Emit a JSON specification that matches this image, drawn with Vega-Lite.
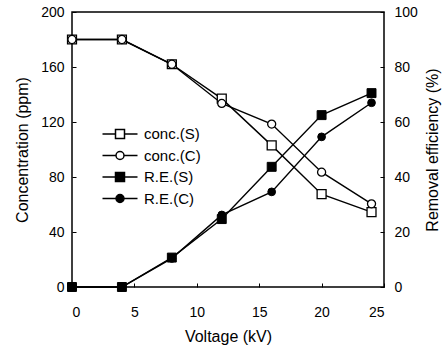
{
  "$schema": "https://vega.github.io/schema/vega-lite/v6.json",
  "width": 312,
  "height": 275,
  "autosize": "none",
  "padding": {"left": 72, "top": 12, "right": 62, "bottom": 60},
  "background": "white",
  "config": {
    "font": "Liberation Sans",
    "view": {"stroke": "black", "strokeWidth": 1.5},
    "axis": {
      "labelFont": "Liberation Sans",
      "titleFont": "Liberation Sans",
      "labelFontSize": 14,
      "titleFontSize": 16,
      "titleFontWeight": "normal",
      "labelColor": "black",
      "titleColor": "black",
      "grid": false,
      "domain": false,
      "tickColor": "black",
      "tickSize": -4,
      "tickWidth": 1
    }
  },
  "data": {
    "values": [
      {"V": 0, "value": 180, "series": "conc.(S)", "group": "conc"},
      {"V": 4, "value": 180, "series": "conc.(S)", "group": "conc"},
      {"V": 8, "value": 162, "series": "conc.(S)", "group": "conc"},
      {"V": 12, "value": 137, "series": "conc.(S)", "group": "conc"},
      {"V": 16, "value": 103, "series": "conc.(S)", "group": "conc"},
      {"V": 20, "value": 67.5, "series": "conc.(S)", "group": "conc"},
      {"V": 24, "value": 54.5, "series": "conc.(S)", "group": "conc"},
      {"V": 0, "value": 180, "series": "conc.(C)", "group": "conc"},
      {"V": 4, "value": 180, "series": "conc.(C)", "group": "conc"},
      {"V": 8, "value": 162, "series": "conc.(C)", "group": "conc"},
      {"V": 12, "value": 133.5, "series": "conc.(C)", "group": "conc"},
      {"V": 16, "value": 118.5, "series": "conc.(C)", "group": "conc"},
      {"V": 20, "value": 83.5, "series": "conc.(C)", "group": "conc"},
      {"V": 24, "value": 60.5, "series": "conc.(C)", "group": "conc"},
      {"V": 0, "value": 0, "series": "R.E.(S)", "group": "re"},
      {"V": 4, "value": 0, "series": "R.E.(S)", "group": "re"},
      {"V": 8, "value": 10.7, "series": "R.E.(S)", "group": "re"},
      {"V": 12, "value": 24.7, "series": "R.E.(S)", "group": "re"},
      {"V": 16, "value": 43.7, "series": "R.E.(S)", "group": "re"},
      {"V": 20, "value": 62.5, "series": "R.E.(S)", "group": "re"},
      {"V": 24, "value": 70.5, "series": "R.E.(S)", "group": "re"},
      {"V": 0, "value": 0, "series": "R.E.(C)", "group": "re"},
      {"V": 4, "value": 0, "series": "R.E.(C)", "group": "re"},
      {"V": 8, "value": 10.4, "series": "R.E.(C)", "group": "re"},
      {"V": 12, "value": 26.2, "series": "R.E.(C)", "group": "re"},
      {"V": 16, "value": 34.6, "series": "R.E.(C)", "group": "re"},
      {"V": 20, "value": 54.6, "series": "R.E.(C)", "group": "re"},
      {"V": 24, "value": 67, "series": "R.E.(C)", "group": "re"}
    ]
  },
  "encoding": {
    "x": {
      "field": "V", "type": "quantitative",
      "scale": {"domain": [0, 25], "nice": false, "zero": false},
      "axis": {"values": [0, 5, 10, 15, 20, 25], "title": "Voltage (kV)", "labelPadding": 22, "titlePadding": 9}
    }
  },
  "layer": [
    {
      "encoding": {
        "y": {
          "field": "value", "type": "quantitative",
          "scale": {"domain": [0, 200], "nice": false},
          "axis": {"orient": "left", "values": [0, 40, 80, 120, 160, 200], "title": "Concentration (ppm)", "labelPadding": 12, "titlePadding": 10}
        }
      },
      "layer": [
        {
          "transform": [{"filter": "datum.group === 'conc'"}],
          "mark": {"type": "line", "color": "black", "strokeWidth": 1.4},
          "encoding": {"detail": {"field": "series"}}
        },
        {
          "transform": [{"filter": "datum.series === 'conc.(S)'"}],
          "mark": {"type": "point", "shape": "square", "filled": true, "fill": "white", "stroke": "black", "strokeWidth": 1.3, "size": 80, "opacity": 1}
        },
        {
          "transform": [{"filter": "datum.series === 'conc.(C)'"}],
          "mark": {"type": "point", "shape": "circle", "filled": true, "fill": "white", "stroke": "black", "strokeWidth": 1.3, "size": 65, "opacity": 1}
        },
        {
          "transform": [{"filter": "datum.V < 0"}],
          "mark": {"type": "point", "filled": true, "stroke": "black", "strokeWidth": 1.3, "size": 400, "opacity": 1},
          "encoding": {
            "shape": {
              "field": "series", "type": "nominal",
              "scale": {
                "domain": ["conc.(S)", "conc.(C)", "R.E.(S)", "R.E.(C)"],
                "range": [
                  "M-1.75,0H-0.45M0.45,0H1.75M-0.45,-0.45H0.45V0.45H-0.45Z",
                  "M-1.75,0H-0.4M0.4,0H1.75M-0.4,0A0.4,0.4 0 1,0 0.4,0A0.4,0.4 0 1,0 -0.4,0Z",
                  "M-1.75,0H-0.45M0.45,0H1.75M-0.45,-0.45H0.45V0.45H-0.45Z",
                  "M-1.75,0H-0.4M0.4,0H1.75M-0.4,0A0.4,0.4 0 1,0 0.4,0A0.4,0.4 0 1,0 -0.4,0Z"
                ]
              },
              "legend": {
                "title": null, "orient": "none", "legendX": 37, "legendY": 111,
                "padding": 0, "labelFont": "Liberation Sans", "labelFontSize": 15, "labelColor": "black",
                "labelOffset": 13, "rowPadding": 2.5, "symbolSize": 400,
                "encode": {
                  "symbols": {
                    "update": {
                      "stroke": {"value": "black"},
                      "strokeWidth": {"value": 1.3},
                      "size": {"value": 400},
                      "opacity": {"value": 1}
                    }
                  }
                }
              }
            },
            "fill": {
              "field": "series", "type": "nominal",
              "scale": {"domain": ["conc.(S)", "conc.(C)", "R.E.(S)", "R.E.(C)"], "range": ["white", "white", "black", "black"]},
              "legend": {"title": null}
            }
          }
        }
      ]
    },
    {
      "encoding": {
        "y": {
          "field": "value", "type": "quantitative",
          "scale": {"domain": [0, 100], "nice": false},
          "axis": {"orient": "right", "values": [0, 20, 40, 60, 80, 100], "title": "Removal efficiency (%)", "titleAngle": -90, "titleBaseline": "bottom", "labelPadding": 14, "titlePadding": 23}
        }
      },
      "layer": [
        {
          "transform": [{"filter": "datum.group === 're'"}],
          "mark": {"type": "line", "color": "black", "strokeWidth": 1.4},
          "encoding": {"detail": {"field": "series"}}
        },
        {
          "transform": [{"filter": "datum.series === 'R.E.(S)'"}],
          "mark": {"type": "point", "shape": "square", "filled": true, "fill": "black", "stroke": "black", "strokeWidth": 1, "size": 80, "opacity": 1}
        },
        {
          "transform": [{"filter": "datum.series === 'R.E.(C)'"}],
          "mark": {"type": "point", "shape": "circle", "filled": true, "fill": "black", "stroke": "black", "strokeWidth": 1, "size": 60, "opacity": 1}
        }
      ]
    }
  ],
  "resolve": {"scale": {"y": "independent"}}
}
